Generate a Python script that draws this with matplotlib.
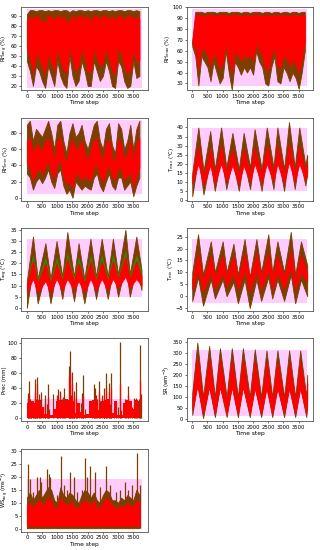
import matplotlib
matplotlib.use("Agg")
import matplotlib.pyplot as plt
import numpy as np

# time axis of the daily series
n_steps = 3780
grid = np.arange(0, 3800, 100)  # 0 .. 3700, every 100 steps

# ---------------- RH avg (%) : envelope read every 100 steps ----------------
rha_lo = [45, 35, 20, 40, 35, 25, 18, 40, 30, 20, 45, 30, 22, 18, 50, 30, 20, 25, 45,
          35, 20, 20, 45, 35, 25, 30, 45, 35, 20, 18, 45, 40, 25, 18, 20, 45, 28, 30]
rha_hi = [92, 96, 96, 95, 96, 96, 95, 96, 95, 96, 96, 95, 96, 96, 94, 96, 95, 96, 96,
          95, 96, 95, 96, 96, 95, 96, 96, 95, 96, 95, 96, 96, 95, 96, 96, 95, 96, 95]
rha_plo = [58, 48, 34, 54, 48, 40, 33, 54, 44, 35, 58, 46, 36, 33, 60, 46, 35, 40, 58,
           48, 34, 34, 58, 48, 40, 44, 58, 48, 34, 33, 58, 54, 40, 33, 36, 58, 44, 46]
rha_phi = [84, 90, 86, 91, 88, 85, 83, 91, 89, 86, 91, 87, 90, 85, 84, 91, 86, 90, 91,
           87, 90, 84, 91, 90, 86, 91, 90, 86, 90, 85, 91, 90, 86, 90, 91, 86, 90, 87]

# ---------------- RH max (%) ----------------
rhx_lo = [64, 55, 28, 55, 50, 45, 32, 50, 40, 30, 35, 60, 40, 24, 50, 45, 38, 45, 40,
          45, 38, 60, 50, 45, 30, 28, 45, 55, 32, 30, 45, 40, 32, 40, 35, 25, 40, 60]
rhx_hi = [70, 96, 96, 96, 95, 96, 96, 96, 95, 96, 96, 96, 95, 96, 96, 96, 95, 96, 96,
          95, 96, 96, 96, 95, 96, 96, 95, 96, 96, 95, 96, 96, 95, 96, 96, 95, 96, 96]
rhx_plo = [66, 64, 44, 64, 60, 57, 46, 60, 53, 44, 48, 68, 53, 40, 60, 57, 51, 57, 53,
           57, 51, 68, 60, 57, 44, 42, 57, 64, 46, 44, 57, 53, 46, 53, 48, 40, 53, 68]
rhx_phi = [68, 93, 93, 93, 92, 93, 93, 93, 92, 93, 93, 93, 92, 93, 93, 93, 92, 93, 93,
           92, 93, 93, 93, 92, 93, 93, 92, 93, 93, 92, 93, 93, 92, 93, 93, 92, 93, 93]

# ---------------- RH min (%) ----------------
rhn_lo = [30, 25, 10, 20, 25, 18, 25, 35, 20, 12, 30, 35, 15, 5, 10, 0, 20, 15, 10,
          15, 12, 10, 25, 30, 15, 8, 20, 30, 15, 10, 25, 25, 10, 15, 20, 2, 15, 25]
rhn_hi = [90, 95, 70, 85, 80, 75, 85, 95, 80, 60, 90, 95, 70, 55, 80, 92, 75, 80, 90,
          70, 60, 75, 90, 95, 70, 60, 85, 92, 65, 55, 92, 85, 60, 70, 90, 60, 85, 95]
rhn_plo = [42, 37, 22, 32, 37, 30, 37, 47, 32, 24, 42, 47, 27, 17, 22, 12, 32, 27, 22,
           27, 24, 22, 37, 42, 27, 20, 32, 42, 27, 22, 37, 37, 22, 27, 32, 14, 27, 37]
rhn_phi = [70, 74, 54, 66, 62, 58, 68, 74, 62, 46, 70, 74, 54, 42, 62, 72, 58, 62, 70,
           54, 46, 58, 70, 74, 54, 46, 66, 72, 50, 42, 72, 66, 46, 54, 70, 46, 66, 74]

# ---------------- T max (degC): peaks and troughs ----------------
tmax_t = [0, 200, 370, 590, 740, 950, 1120, 1320, 1530, 1690, 1900,
          2050, 2280, 2450, 2670, 2800, 3020, 3180, 3370, 3520, 3720, 3780]
tmax_lo = [2, 24, 3, 22, 5, 24, 6, 22, 5, 22, 6, 24, 5, 25, 6, 25, 5, 26, 6, 24, 8, 14]
tmax_hi = [15, 40, 16, 38, 17, 40, 18, 37, 17, 37, 18, 39, 17, 40, 18, 40, 17, 43, 18, 40, 19, 25]
tmax_plo = [9, 20, 8, 19, 9, 20, 10, 19, 9, 19, 10, 20, 9, 20, 10, 20, 9, 21, 10, 20, 11, 15]
tmax_phi = [13, 30, 13, 28, 14, 30, 15, 28, 14, 28, 15, 29, 14, 30, 15, 30, 14, 31, 15, 30, 15, 21]

# ---------------- T avg (degC) ----------------
tavg_t = [0, 200, 355, 610, 777, 977, 1165, 1330, 1550, 1700, 1890,
          2090, 2275, 2460, 2660, 2830, 3000, 3240, 3385, 3600, 3770]
tavg_lo = [0, 18, 2, 16, 2, 17, 4, 19, 3, 16, 2, 17, 4, 17, 4, 17, 5, 19, 5, 18, 8]
tavg_hi = [12, 32, 13, 29, 13, 30, 14, 34, 14, 29, 13, 31, 14, 31, 14, 31, 15, 35, 15, 32, 17]
tavg_plo = [7, 13, 7, 12, 7, 13, 8, 13, 8, 12, 7, 13, 8, 13, 8, 13, 9, 14, 9, 13, 10]
tavg_phi = [11, 21, 11, 20, 11, 20, 12, 22, 12, 20, 11, 21, 12, 21, 12, 21, 13, 23, 13, 21, 14]
# green tips where the observed series rises above the prediction
tavg_glo = [12, 24, 13, 23, 13, 23, 14, 25, 14, 23, 13, 24, 14, 24, 14, 24, 15, 26, 15, 24, 17]

# ---------------- T min (degC) ----------------
tmin_t = [0, 190, 355, 610, 744, 1000, 1130, 1355, 1500, 1720, 1890,
          2110, 2265, 2500, 2630, 2800, 3020, 3240, 3385, 3575, 3780]
tmin_lo = [-2, 8, -4, 7, -1, 7, 0, 6, -3, 7, -5, 7, -2, 8, -1, 7, -2, 9, -3, 7, 0]
tmin_hi = [10, 26, 9, 23, 10, 23, 10, 22, 9, 24, 8, 24, 10, 26, 10, 23, 10, 27, 9, 23, 13]
tmin_plo = [3, 11, 2, 10, 3, 10, 4, 10, 3, 11, 2, 11, 3, 11, 3, 10, 3, 12, 3, 10, 6]
tmin_phi = [7, 18, 7, 17, 8, 17, 8, 17, 7, 18, 7, 18, 8, 18, 8, 17, 8, 19, 7, 17, 10]

# ---------------- Prec (mm): spikes ----------------
prec_t = [22, 55, 110, 150, 200, 250, 277, 300, 333, 390, 420, 466, 520, 610, 650, 690,
          720, 865, 1000, 1020, 1090, 1150, 1220, 1250, 1390, 1420, 1450, 1490, 1520,
          1555, 1600, 1650, 1700, 1780, 1810, 1850, 1900, 2150, 2200, 2255, 2300, 2365,
          2400, 2480, 2530, 2550, 2600, 2650, 2690, 2720, 2775, 2850, 2940, 3000, 3050,
          3100, 3220, 3270, 3330, 3380, 3450, 3530, 3575, 3620, 3680, 3720, 3760]
prec_h = [33, 50, 25, 15, 20, 12, 52, 25, 55, 32, 20, 35, 15, 30, 18, 45,
          12, 32, 20, 38, 36, 25, 40, 15, 70, 90, 30, 62, 20,
          36, 48, 15, 10, 20, 33, 57, 12, 20, 45, 40, 25, 50,
          22, 30, 40, 25, 60, 20, 47, 18, 60, 10, 20, 15, 102,
          10, 25, 18, 43, 20, 15, 26, 27, 20, 25, 98, 32]
prec_pred_t = [30, 80, 150, 280, 340, 400, 600, 680, 1000, 1080, 1200, 1380, 1430, 1480,
               1560, 1600, 1830, 2200, 2260, 2360, 2520, 2600, 2700, 2780, 3050, 3330,
               3560, 3720]
prec_pred_h = [25, 30, 20, 35, 45, 25, 20, 28, 30, 35, 28, 55, 60, 45,
               30, 25, 30, 25, 30, 35, 30, 40, 35, 40, 45, 30,
               22, 50]
prec_base = [20, 18, 22, 20, 24, 15, 5, 4, 3, 12, 22, 24, 20, 25, 24, 22, 6, 20, 8,
             4, 5, 22, 24, 20, 10, 22, 24, 25, 6, 22, 3, 4, 20, 24, 22, 12, 24, 22]

# ---------------- SR (w m-2) ----------------
sr_t = [0, 167, 355, 555, 744, 910, 1130, 1300, 1500, 1665, 1890,
        2055, 2265, 2440, 2630, 2800, 3020, 3185, 3385, 3550, 3750, 3780]
sr_lo = [20, 160, 5, 150, 10, 150, 10, 150, 10, 150, 10, 145, 10, 145, 10, 145, 10, 145, 10, 145, 10, 60]
sr_hi = [120, 345, 100, 330, 100, 320, 100, 320, 100, 320, 100, 315, 100, 310, 100, 310, 100, 310, 100, 310, 100, 200]
sr_plo = [45, 150, 25, 145, 25, 145, 25, 145, 25, 145, 25, 140, 25, 140, 25, 140, 25, 140, 25, 140, 25, 90]
sr_phi = [95, 280, 75, 275, 75, 270, 75, 270, 75, 270, 75, 265, 75, 260, 75, 260, 75, 260, 75, 260, 75, 160]

# ---------------- WS avg (m s-1) ----------------
ws_hi = [12, 14, 11, 13, 15, 12, 14, 16, 15, 11, 10, 16, 13, 12, 14, 13, 11, 10, 13,
         15, 14, 12, 14, 11, 10, 13, 15, 14, 11, 11, 10, 12, 11, 13, 12, 11, 15, 13]
ws_phi = [9, 10, 8, 10, 11, 9, 10, 12, 11, 8, 8, 12, 10, 9, 10, 10, 8, 8, 10,
          11, 10, 9, 11, 8, 8, 10, 12, 11, 9, 8, 8, 9, 8, 10, 9, 8, 11, 10]
ws_spk_t = [22, 110, 200, 330, 418, 462, 660, 715, 770, 990, 1122, 1210, 1320, 1430,
            1540, 1650, 1815, 1925, 1980, 2090, 2255, 2420, 2618, 2750, 2915, 3047,
            3212, 3322, 3465, 3630, 3718]
ws_spk_h = [25, 19, 14, 20, 20, 18, 23, 21, 20, 13, 28, 17, 15, 22,
            20, 14, 15, 27, 20, 24, 22, 16, 24, 17, 14, 15,
            18, 15, 17, 29, 17]

# pink band (lo, hi) per panel
bands = {
    "rha": (18, 97), "rhx": (28, 99), "rhn": (5, 96), "tmax": (5, 39.5),
    "tavg": (5, 31), "tmin": (-3, 24), "prec": (0, 25), "sr": (15, 310), "ws": (0, 19),
}

BROWN = "#7d3e00"
RED = "#ff0000"
GREEN = "#2e8b00"
PINK = "#ffccff"


def envelope(ax, t, lo, hi, plo, phi, band):
    ax.fill_between([0, n_steps], band[0], band[1], color=PINK, lw=0, zorder=1)
    ax.fill_between(t, lo, hi, color=BROWN, lw=0.6, edgecolor=BROWN, zorder=2)
    ax.fill_between(t, plo, phi, color=RED, lw=0.6, edgecolor=RED, zorder=3)


fig = plt.figure(figsize=(3.2, 5.5), dpi=100)
gs = fig.add_gridspec(5, 2, left=0.066, right=0.978, top=0.987, bottom=0.033,
                      wspace=0.308, hspace=0.325)

panels = [
    (0, 0, "RH$_{avg}$ (%)", (15.5, 99), [20, 30, 40, 50, 60, 70, 80, 90]),
    (0, 1, "RH$_{max}$ (%)", (23.5, 100.3), [30, 40, 50, 60, 70, 80, 90, 100]),
    (1, 0, "RH$_{min}$ (%)", (-3.7, 99), [0, 20, 40, 60, 80]),
    (1, 1, "T$_{max}$ (\u00b0C)", (-0.5, 45.5), [0, 5, 10, 15, 20, 25, 30, 35, 40]),
    (2, 0, "T$_{avg}$ (\u00b0C)", (-1.5, 35.9), [0, 5, 10, 15, 20, 25, 30, 35]),
    (2, 1, "T$_{min}$ (\u00b0C)", (-6.3, 28.7), [-5, 0, 5, 10, 15, 20, 25]),
    (3, 0, "Prec (mm)", (-5.1, 107), [0, 20, 40, 60, 80, 100]),
    (3, 1, "SR (wm$^{-2}$)", (-10, 365), [0, 50, 100, 150, 200, 250, 300, 350]),
    (4, 0, "WS$_{avg}$ (ms$^{-1}$)", (-1.1, 30.8), [0, 5, 10, 15, 20, 25, 30]),
]

axes = []
for r, c, lab, ylim, yt in panels:
    ax = fig.add_subplot(gs[r, c])
    ax.set_xlim(-189, 3969)
    ax.set_ylim(*ylim)
    ax.set_yticks(yt)
    ax.set_xticks([0, 500, 1000, 1500, 2000, 2500, 3000, 3500])
    ax.set_ylabel(lab, fontsize=3.8, labelpad=0.5)
    ax.set_xlabel("Time step", fontsize=4.3, labelpad=1)
    ax.tick_params(labelsize=3.8, length=1.5, width=0.4, pad=1)
    for s in ax.spines.values():
        s.set_linewidth(0.6)
        s.set_color("#555555")
    axes.append(ax)

envelope(axes[0], grid, rha_lo, rha_hi, rha_plo, rha_phi, bands["rha"])
envelope(axes[1], grid, rhx_lo, rhx_hi, rhx_plo, rhx_phi, bands["rhx"])
envelope(axes[2], grid, rhn_lo, rhn_hi, rhn_plo, rhn_phi, bands["rhn"])
envelope(axes[3], tmax_t, tmax_lo, tmax_hi, tmax_plo, tmax_phi, bands["tmax"])
envelope(axes[4], tavg_t, tavg_lo, tavg_hi, tavg_plo, tavg_phi, bands["tavg"])
axes[4].fill_between(tavg_t, tavg_glo, tavg_phi, where=np.array(tavg_glo) > np.array(tavg_phi),
                     color=GREEN, lw=0, zorder=2.5, interpolate=True)
envelope(axes[5], tmin_t, tmin_lo, tmin_hi, tmin_plo, tmin_phi, bands["tmin"])
envelope(axes[7], sr_t, sr_lo, sr_hi, sr_plo, sr_phi, bands["sr"])

# precipitation
ax = axes[6]
ax.fill_between([0, n_steps], *bands["prec"], color=PINK, lw=0, zorder=1)
ax.fill_between(grid, 0, 3, color=BROWN, lw=0, zorder=2)
ax.vlines(prec_t, 0, prec_h, color=BROWN, lw=0.9, zorder=2)
ax.fill_between(grid, 0, prec_base, color=RED, lw=0, step="mid", zorder=3)
ax.vlines(prec_pred_t, 0, prec_pred_h, color=RED, lw=0.9, zorder=3)

# wind speed
ax = axes[8]
ax.fill_between([0, n_steps], *bands["ws"], color=PINK, lw=0, zorder=1)
ax.fill_between(grid, 0.3, ws_hi, color=BROWN, lw=0.6, edgecolor=BROWN, zorder=2)
ax.vlines(ws_spk_t, 0.3, ws_spk_h, color=BROWN, lw=0.9, zorder=2)
ax.fill_between(grid, 1.2, ws_phi, color=RED, lw=0.6, edgecolor=RED, zorder=3)

fig.savefig("out.png", dpi=100)
